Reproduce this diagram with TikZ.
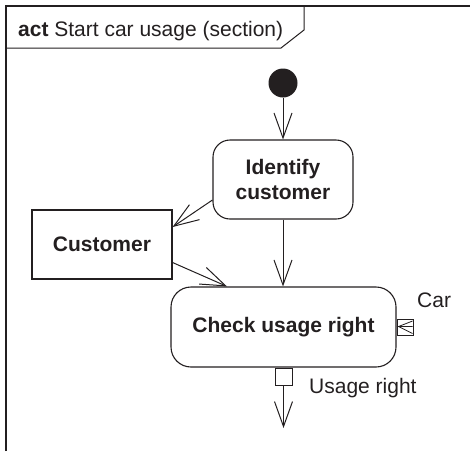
\documentclass[tikz,border=0pt]{standalone}
\usepackage{fontspec}
\setmainfont{Liberation Sans}
\usetikzlibrary{arrows.meta,calc}
\definecolor{ink}{HTML}{231F20}
\begin{document}
\begin{tikzpicture}[x=1pt,y=-1pt,
  every node/.style={font=\fontsize{21}{25}\selectfont, text=ink},
  actbox/.style={draw=ink, line width=1.1pt, rounded corners=17pt, inner sep=0pt, align=center, font=\fontsize{21}{25}\selectfont\bfseries},
  objbox/.style={draw=ink, line width=1.1pt, inner sep=0pt, font=\fontsize{21}{25}\selectfont\bfseries},
  pinbox/.style={draw=ink, line width=1pt, inner sep=0pt, minimum width=17pt, minimum height=17pt, fill=white},
  flow/.style={draw=ink, line width=1pt, -{Straight Barb[length=25pt, width=18pt, line width=1pt]}},
  lbl/.style={inner sep=0pt, anchor=base west}
]
\useasboundingbox (0,0) rectangle (470,451);
% frame
\draw[ink, line width=2pt] (6,451) -- (6,6) -- (470,6);
\draw[ink, line width=1pt] (6,48) -- (281,48) -- (304,30) -- (304,6);
\node[lbl] (title) at (18,36.5) {\textbf{act} Start car usage (section)};
% nodes
\node[circle, fill=ink, inner sep=0pt, minimum size=29pt] (init) at (283,83) {};
\node[actbox, minimum width=140pt, minimum height=79pt] (id) at (283,179.5) {Identify\\customer};
\node[objbox, minimum width=140pt, minimum height=69pt] (cust) at (102,244.5) {Customer};
\node[actbox, rounded corners=20pt, minimum width=225pt, minimum height=80pt] (check) at (283.5,327) {Check usage right};
\node[pinbox, minimum width=16pt, minimum height=16pt, anchor=west] (carpin) at (check.east |- 0,327.5) {};
\node[pinbox, anchor=north] (outpin) at (check.south) {};
\coordinate (outend) at (283.5,428);
% pin symbol
\draw[ink, line width=0.8pt] ([xshift=-1pt,yshift=6.5pt]carpin.east) -- ([xshift=2pt,yshift=1pt]carpin.west) -- ([xshift=-1pt,yshift=1pt]carpin.east)
  ([xshift=2pt,yshift=1pt]carpin.west) -- ([xshift=-1pt,yshift=-6pt]carpin.east);
% labels
\node[lbl] (carlbl) at (417,307.5) {Car};
\node[lbl] (urlbl) at (309,393) {Usage right};
% connectors
\draw[flow] (init) -- (id.north);
\draw[flow] ([yshift=-20.5pt]id.west) -- ([yshift=17.5pt]cust.east);
\draw[flow] (id.south) -- (id.south |- check.north);
\draw[flow] ([yshift=-18pt]cust.east) -- ([xshift=-56.5pt]check.north);
\draw[flow] (outpin.south) -- (outend);
\end{tikzpicture}
\end{document}
